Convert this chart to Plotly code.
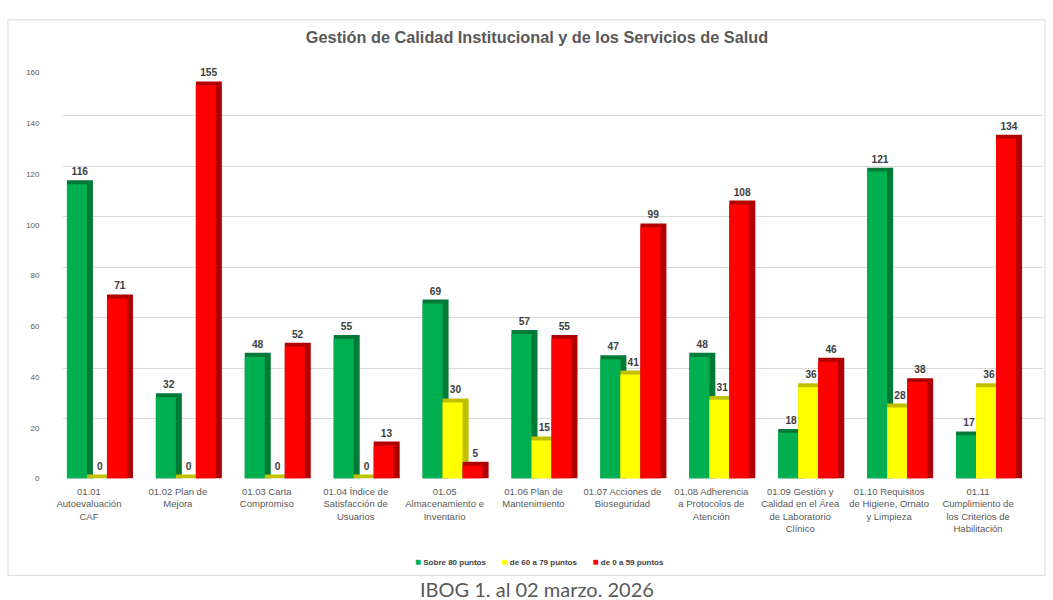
import plotly.graph_objects as go

# ---------------- data ----------------
categories = [
    "01.01<br>Autoevaluación<br>CAF",
    "01.02 Plan de<br>Mejora",
    "01.03 Carta<br>Compromiso",
    "01.04 Índice de<br>Satisfacción de<br>Usuarios",
    "01.05<br>Almacenamiento e<br>Inventario",
    "01.06 Plan de<br>Mantenimiento",
    "01.07 Acciones de<br>Bioseguridad",
    "01.08 Adherencia<br>a Protocolos de<br>Atención",
    "01.09 Gestión y<br>Calidad en el Área<br>de Laboratorio<br>Clínico",
    "01.10 Requisitos<br>de Higiene, Ornato<br>y Limpieza",
    "01.11<br>Cumplimiento de<br>los Criterios de<br>Habilitación",
]
series_names = ["Sobre 80 puntos", "de 60 a 79 puntos", "de 0 a 59 puntos"]
sobre_80 = [116, 32, 48, 55, 69, 57, 47, 48, 18, 121, 17]
de_60_79 = [0, 0, 0, 0, 30, 15, 41, 31, 36, 28, 36]
de_0_59 = [71, 155, 52, 13, 5, 55, 99, 108, 46, 38, 134]
y_ticks = [0, 20, 40, 60, 80, 100, 120, 140, 160]

title_text = "Gestión de Calidad Institucional y de los Servicios de Salud"
caption_text = "IBOG 1. al 02 marzo. 2026"

# ---------------- styling ----------------
W, H = 1053, 600
front_colors = ["#00B050", "#FFFF00", "#FF0000"]
side_colors = ["#007A36", "#C0C000", "#B00000"]
offsets = [-0.2475, -0.0225, 0.2025]   # category units
FRONT_W = 0.225
SIDE_W = 0.0675
TOP_DEPTH = 1.55                        # value units for the 3D top face

def px_x(p):
    return p / W

def px_y(p):
    return 1 - p / H

fig = go.Figure()

# invisible trace to create the back-wall gridline subplot (x / y)
fig.add_trace(go.Scatter(x=[None], y=[None], xaxis="x", yaxis="y",
                         showlegend=False, hoverinfo="skip"))

all_series = [sobre_80, de_60_79, de_0_59]
for i, vals in enumerate(all_series):
    # darker side/top face (drawn first, behind the front face)
    fig.add_trace(go.Bar(
        x=categories, y=[v + TOP_DEPTH for v in vals],
        xaxis="x2", yaxis="y2",
        offset=offsets[i], width=FRONT_W + SIDE_W,
        marker=dict(color=side_colors[i], line=dict(width=0)),
        text=[str(v) for v in vals], textposition="outside",
        textfont=dict(family="Liberation Sans", size=10.2, color="#404040", weight="bold"),
        constraintext="none", cliponaxis=False,
        showlegend=False, hoverinfo="skip",
    ))
    # front face
    fig.add_trace(go.Bar(
        x=categories, y=vals,
        xaxis="x2", yaxis="y2",
        offset=offsets[i], width=FRONT_W,
        marker=dict(color=front_colors[i], line=dict(width=0)),
        name=series_names[i], showlegend=False,
        hovertemplate="%{x}<br>" + series_names[i] + ": %{y}<extra></extra>",
    ))

# legend drawn as one line of text with coloured squares
sep = "&nbsp;" * 7
legend_text = sep.join(
    f'<span style="color:{c};font-size:10px">■</span>&nbsp;{n}'
    for c, n in zip(front_colors, series_names)
)

fig.update_layout(
    width=W, height=H,
    margin=dict(l=0, r=0, t=0, b=0),
    paper_bgcolor="white", plot_bgcolor="rgba(0,0,0,0)",
    barmode="overlay", showlegend=False,
    font=dict(family="Liberation Sans", color="#595959"),
    title=dict(text=title_text, x=0.51, xanchor="center", y=px_y(37), yanchor="middle",
               font=dict(family="Liberation Sans", size=16.3,
                         color="#595959", weight="bold")),
    # back-wall gridlines (shifted for perspective)
    xaxis=dict(domain=[px_x(63), px_x(1043)], anchor="y", visible=False,
               range=[0, 1], showgrid=False, zeroline=False),
    yaxis=dict(domain=[px_y(473.2), px_y(61.2)], anchor="x", range=[-0.3, 160.3],
               tickvals=y_ticks, showticklabels=False, ticks="",
               showgrid=True, gridcolor="#D9D9D9", gridwidth=1,
               zeroline=False, showline=False),
    # bar axes
    xaxis2=dict(domain=[px_x(44.5), px_x(1022.5)], anchor="y2",
                showgrid=False, zeroline=False, showline=False, ticks="",
                tickfont=dict(family="Liberation Sans", size=9.5, color="#595959"),
                ticklabelstandoff=6),
    yaxis2=dict(domain=[px_y(481.7), px_y(69.7)], anchor="x2", range=[0, 160],
                tickvals=y_ticks, showgrid=False, zeroline=False, showline=False,
                ticks="", tickfont=dict(family="Liberation Sans", size=8, color="#595959"),
                ticklabelstandoff=4),
    shapes=[dict(type="rect", xref="paper", yref="paper",
                 x0=px_x(8), x1=px_x(1045), y0=px_y(580), y1=px_y(16),
                 line=dict(color="#D9D9D9", width=1), fillcolor="rgba(0,0,0,0)",
                 layer="below")],
    annotations=[
        dict(text=legend_text, xref="paper", yref="paper",
             x=px_x(539.5), y=px_y(566), xanchor="center", yanchor="middle",
             showarrow=False,
             font=dict(family="Liberation Sans", size=8, color="#404040", weight="bold")),
        dict(text=caption_text, xref="paper", yref="paper",
             x=px_x(537), y=px_y(594), xanchor="center", yanchor="middle",
             showarrow=False,
             font=dict(family="Lato", size=20, color="#595959")),
    ],
)

fig.write_html("out.html", config={"displayModeBar": False},
               post_script="document.body.style.margin='0';")
